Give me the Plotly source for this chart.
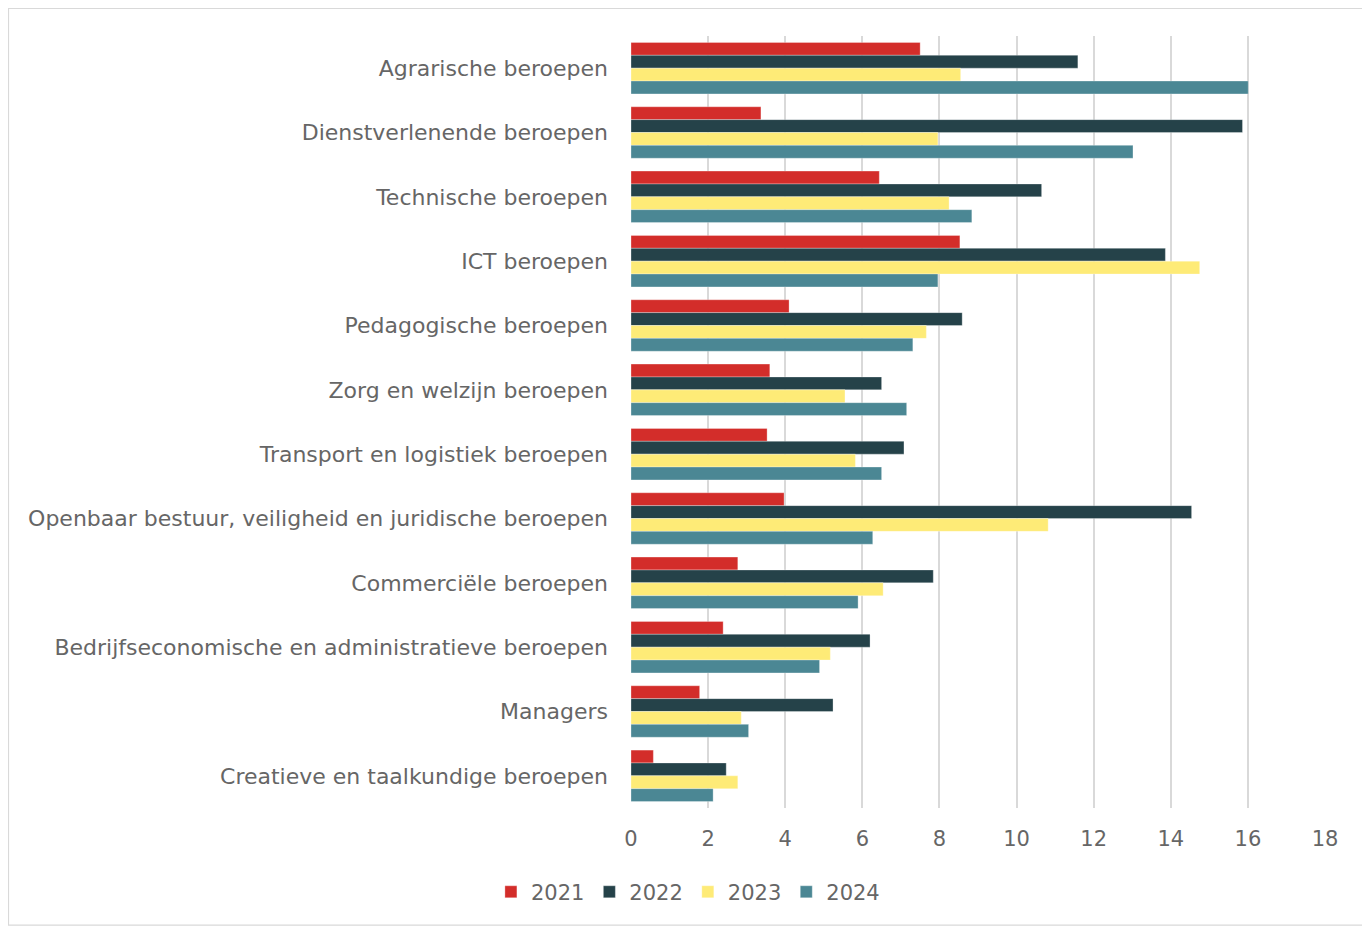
import plotly.graph_objects as go

categories = [
    "Agrarische beroepen",
    "Dienstverlenende beroepen",
    "Technische beroepen",
    "ICT beroepen",
    "Pedagogische beroepen",
    "Zorg en welzijn beroepen",
    "Transport en logistiek beroepen",
    "Openbaar bestuur, veiligheid en juridische beroepen",
    "Commerciële beroepen",
    "Bedrijfseconomische en administratieve beroepen",
    "Managers",
    "Creatieve en taalkundige beroepen",
]
v2021 = [7.50, 3.37, 6.44, 8.53, 4.10, 3.60, 3.53, 3.97, 2.77, 2.39, 1.78, 0.58]
v2022 = [11.59, 15.86, 10.65, 13.86, 8.59, 6.50, 7.08, 14.54, 7.84, 6.20, 5.24, 2.47]
v2023 = [8.55, 7.96, 8.25, 14.75, 7.66, 5.55, 5.82, 10.82, 6.54, 5.17, 2.86, 2.77]
v2024 = [16.01, 13.02, 8.84, 7.96, 7.31, 7.15, 6.50, 6.27, 5.89, 4.89, 3.05, 2.13]
series_names = ["2021", "2022", "2023", "2024"]
colors = ["#D32D2A", "#254249", "#FEEB77", "#4B8794"]
x_ticks = [0, 2, 4, 6, 8, 10, 12, 14, 16, 18]

fig = go.Figure()
for name, vals, col in zip(series_names, [v2021, v2022, v2023, v2024], colors):
    fig.add_trace(go.Bar(
        y=categories, x=vals, name=name, orientation="h",
        marker=dict(color=col, line=dict(color="rgba(255,255,255,0.5)", width=0.6)),
    ))

font_family = "DejaVu Sans, sans-serif"
txt_color = "#666666"
fig.update_layout(
    width=1362, height=919,
    margin=dict(l=623, r=45, t=28, b=119),
    paper_bgcolor="white", plot_bgcolor="white",
    barmode="group", bargap=0.2, bargroupgap=0,
    font=dict(family=font_family, color=txt_color, size=21),
    xaxis=dict(range=[0, 18], tickvals=x_ticks, showgrid=True, gridcolor="#D9D9D9",
               gridwidth=1.5, zeroline=False, ticks="", ticklabelstandoff=16,
               tickfont=dict(size=21, color=txt_color), showline=False),
    yaxis=dict(autorange="reversed", showgrid=False, ticks="",
               tickfont=dict(size=22, color=txt_color), showline=False,
               ticklabelstandoff=22),
    legend=dict(orientation="h", x=0.082, xanchor="center", y=-0.109, yanchor="middle",
                font=dict(size=21, color=txt_color), traceorder="normal",
                itemwidth=30),
    showlegend=True,
    shapes=[dict(type="rect", xref="paper", yref="paper",
                 x0=-0.897, x1=1.0576, y0=-0.1516, y1=1.0356,
                 line=dict(color="#D9D9D9", width=1.2), fillcolor="rgba(0,0,0,0)")],
)

fig.write_html("out.html")
